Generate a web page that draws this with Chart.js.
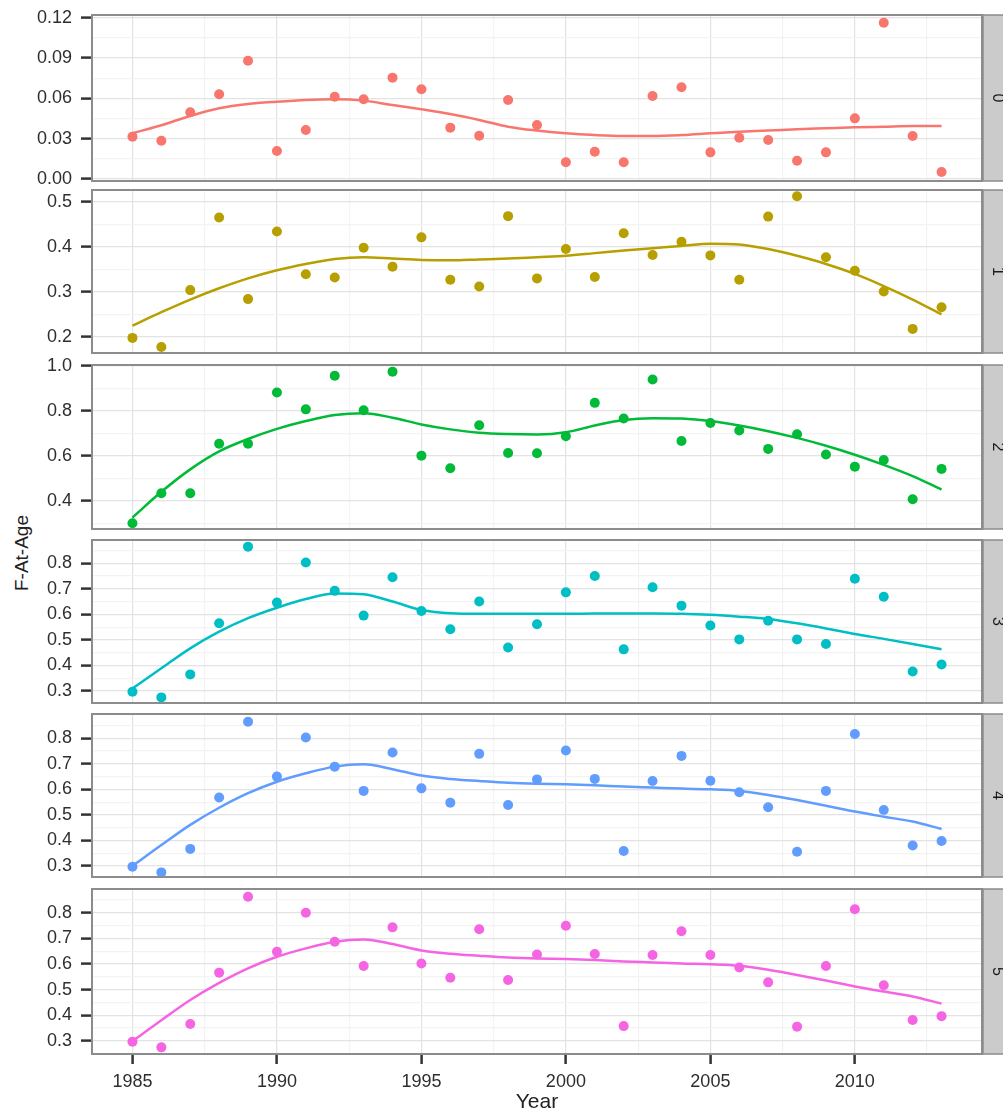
<!DOCTYPE html>
<html>
<head>
<meta charset="utf-8">
<title>F-At-Age</title>
<script src="https://cdn.jsdelivr.net/npm/chart.js@4.4.1/dist/chart.umd.min.js"></script>
<style>
  html, body { margin: 0; padding: 0; background: #fff; }
  #wrap { position: relative; width: 1003px; height: 1118px; overflow: hidden; }
  #wrap canvas { position: absolute; left: 0; }
  #ytitle {
    position: absolute; left: 22px; top: 553px;
    transform: translate(-50%, -50%) rotate(-90deg);
    font: 19px "Liberation Sans", Arial, sans-serif; color: #222; white-space: nowrap;
  }
</style>
</head>
<body>
<div id="wrap">
  <div id="ytitle">F-At-Age</div>
</div>
<script>
// ---- data ----
const years = [1985, 1986, 1987, 1988, 1989, 1990, 1991, 1992, 1993, 1994,
               1995, 1996, 1997, 1998, 1999, 2000, 2001, 2002, 2003, 2004,
               2005, 2006, 2007, 2008, 2009, 2010, 2011, 2012, 2013];
const ages = ['0', '1', '2', '3', '4', '5'];
const xTicks = [1985, 1990, 1995, 2000, 2005, 2010];

const age0Points = [0.0315, 0.0285, 0.0496, 0.063, 0.088, 0.0208, 0.0364, 0.0612, 0.0593, 0.0754,
                    0.0667, 0.0382, 0.0322, 0.0588, 0.0402, 0.0124, 0.0203, 0.0124, 0.0617, 0.0682,
                    0.0198, 0.0307, 0.029, 0.0136, 0.0198, 0.0451, 0.1163, 0.032, 0.0052];
const age0Smooth = [0.034, 0.040, 0.0469, 0.0526, 0.0558, 0.0575, 0.0588, 0.0593, 0.0583, 0.055,
                    0.0518, 0.0483, 0.0439, 0.0389, 0.036, 0.034, 0.0327, 0.032, 0.032, 0.0327,
                    0.034, 0.0352, 0.036, 0.037, 0.0377, 0.0384, 0.0389, 0.0394, 0.0394];

const age1Points = [0.198, 0.178, 0.304, 0.465, 0.284, 0.434, 0.339, 0.332, 0.398, 0.356,
                    0.421, 0.327, 0.312, 0.468, 0.330, 0.395, 0.333, 0.430, 0.382, 0.411,
                    0.381, 0.327, 0.467, 0.512, 0.377, 0.347, 0.301, 0.218, 0.266];
const age1Smooth = [0.225, 0.255, 0.283, 0.308, 0.330, 0.348, 0.362, 0.373, 0.377, 0.374,
                    0.371, 0.370, 0.372, 0.374, 0.377, 0.380, 0.386, 0.392, 0.397, 0.402,
                    0.407, 0.405, 0.395, 0.380, 0.362, 0.340, 0.313, 0.283, 0.250];

const age2Points = [0.300, 0.434, 0.434, 0.654, 0.654, 0.882, 0.807, 0.957, 0.803, 0.975,
                    0.601, 0.545, 0.736, 0.613, 0.612, 0.687, 0.836, 0.766, 0.940, 0.666,
                    0.746, 0.713, 0.631, 0.696, 0.606, 0.552, 0.582, 0.407, 0.542];
const age2Smooth = [0.325, 0.440, 0.540, 0.620, 0.675, 0.720, 0.755, 0.782, 0.790, 0.770,
                    0.740, 0.718, 0.703, 0.697, 0.695, 0.705, 0.735, 0.760, 0.768, 0.766,
                    0.755, 0.735, 0.710, 0.680, 0.645, 0.605, 0.560, 0.510, 0.450];

const age3Points = [0.297, 0.275, 0.365, 0.565, 0.865, 0.646, 0.803, 0.692, 0.595, 0.745,
                    0.613, 0.542, 0.650, 0.470, 0.561, 0.686, 0.750, 0.463, 0.706, 0.634,
                    0.556, 0.502, 0.575, 0.502, 0.484, 0.739, 0.669, 0.376, 0.404];
const age3Smooth = [0.310, 0.389, 0.467, 0.532, 0.585, 0.626, 0.660, 0.682, 0.679, 0.650,
                    0.617, 0.604, 0.602, 0.602, 0.602, 0.602, 0.603, 0.603, 0.603, 0.602,
                    0.598, 0.591, 0.582, 0.565, 0.545, 0.523, 0.504, 0.484, 0.463];

const age4Points = [0.297, 0.275, 0.367, 0.568, 0.865, 0.650, 0.803, 0.689, 0.594, 0.744,
                    0.604, 0.548, 0.739, 0.539, 0.639, 0.752, 0.641, 0.359, 0.633, 0.731,
                    0.634, 0.589, 0.530, 0.356, 0.594, 0.817, 0.519, 0.380, 0.398];
const age4Smooth = [0.300, 0.382, 0.461, 0.528, 0.585, 0.630, 0.663, 0.689, 0.698, 0.679,
                    0.654, 0.641, 0.633, 0.626, 0.622, 0.620, 0.616, 0.611, 0.607, 0.603,
                    0.600, 0.594, 0.578, 0.558, 0.536, 0.513, 0.493, 0.474, 0.445];

const age5Points = [0.296, 0.274, 0.365, 0.566, 0.863, 0.648, 0.800, 0.687, 0.592, 0.743,
                    0.602, 0.546, 0.736, 0.537, 0.637, 0.749, 0.639, 0.357, 0.635, 0.728,
                    0.635, 0.586, 0.528, 0.355, 0.592, 0.814, 0.517, 0.381, 0.396];
const age5Smooth = [0.298, 0.380, 0.459, 0.526, 0.583, 0.628, 0.661, 0.687, 0.696, 0.678,
                    0.653, 0.640, 0.632, 0.625, 0.621, 0.619, 0.615, 0.610, 0.606, 0.602,
                    0.599, 0.593, 0.577, 0.557, 0.535, 0.512, 0.492, 0.473, 0.445];

const yTicks0 = [0, 0.03, 0.06, 0.09, 0.12];
const yTicks1 = [0.2, 0.3, 0.4, 0.5];
const yTicks2 = [0.4, 0.6, 0.8, 1.0];
const yTicks3 = [0.3, 0.4, 0.5, 0.6, 0.7, 0.8];
const yTicks4 = [0.3, 0.4, 0.5, 0.6, 0.7, 0.8];
const yTicks5 = [0.3, 0.4, 0.5, 0.6, 0.7, 0.8];

const allPoints = [age0Points, age1Points, age2Points, age3Points, age4Points, age5Points];
const allSmooth = [age0Smooth, age1Smooth, age2Smooth, age3Smooth, age4Smooth, age5Smooth];
const allYTicks = [yTicks0, yTicks1, yTicks2, yTicks3, yTicks4, yTicks5];

// ---- layout / style ----
const colors = ['#F8766D', '#B79F00', '#00BA38', '#00BFC4', '#619CFF', '#F564E3'];
const panelTop = [15, 190, 365, 540, 714, 889];
const panelBottom = [181, 353, 529, 703, 877, 1054];
const yRange = [[-0.0015, 0.122], [0.1645, 0.526], [0.2745, 1.0045],
                [0.253, 0.891], [0.257, 0.895], [0.248, 0.893]];
const yDecimals = [2, 1, 1, 1, 1, 1];
const xRange = [1983.6, 2014.4];
const tickFont = { family: '"Liberation Sans", Arial, sans-serif', size: 18 };
const pad = 12;

const near = (a, b) => Math.abs(a - b) < 1e-6;

// frame round the panel plus the grey strip with its label
const panelFrame = {
  id: 'panelFrame',
  afterDraw(chart, args, opts) {
    const { ctx, chartArea: a } = chart;
    const h = a.bottom - a.top;
    ctx.save();
    ctx.fillStyle = '#cbcbcb';
    ctx.fillRect(a.right + 1, a.top, 40, h);
    ctx.strokeStyle = '#8c8c8c';
    ctx.lineWidth = 1.5;
    ctx.strokeRect(a.right + 1, a.top, 40, h);
    ctx.lineWidth = 2;
    ctx.strokeRect(a.left, a.top, a.right - a.left, h);
    ctx.translate(997, (a.top + a.bottom) / 2);
    ctx.rotate(Math.PI / 2);
    ctx.fillStyle = '#1a1a1a';
    ctx.font = '16px "Liberation Sans", Arial, sans-serif';
    ctx.textAlign = 'center';
    ctx.textBaseline = 'middle';
    ctx.fillText(opts.label, 0, 0);
    ctx.restore();
  }
};

function buildPanel(i) {
  const last = i === ages.length - 1;
  const top = panelTop[i] - pad;
  const height = last ? 1118 - top : panelBottom[i] - panelTop[i] + 2 * pad;

  const canvas = document.createElement('canvas');
  canvas.width = 1003;
  canvas.height = height;
  canvas.style.top = top + 'px';
  document.getElementById('wrap').appendChild(canvas);

  const majorsY = allYTicks[i];
  const stepY = majorsY[1] - majorsY[0];
  const [yMin, yMax] = yRange[i];
  const minorsY = [majorsY[0] - stepY / 2].concat(majorsY.map(v => v + stepY / 2))
    .filter(v => v > yMin && v < yMax);
  const gridY = majorsY.concat(minorsY);

  const gridX = [];
  for (let v = 1985; v <= xRange[1]; v += 2.5) gridX.push(v);

  const isMajorY = v => majorsY.some(m => near(m, v));
  const isMajorX = v => xTicks.some(m => near(m, v));

  new Chart(canvas, {
    type: 'scatter',
    data: {
      datasets: [
        {
          type: 'line',
          data: years.map((y, k) => ({ x: y, y: allSmooth[i][k] })),
          borderColor: colors[i],
          borderWidth: 2.5,
          pointRadius: 0,
          tension: 0.4,
          cubicInterpolationMode: 'monotone',
          fill: false,
          order: 0
        },
        {
          data: years.map((y, k) => ({ x: y, y: allPoints[i][k] })),
          backgroundColor: colors[i],
          borderWidth: 0,
          pointRadius: 5,
          pointHoverRadius: 5,
          showLine: false,
          order: 1
        }
      ]
    },
    options: {
      responsive: false,
      animation: false,
      events: [],
      layout: { padding: { top: pad, bottom: last ? 0 : pad, left: 0, right: 21 } },
      plugins: {
        legend: { display: false },
        tooltip: { enabled: false },
        panelFrame: { label: ages[i] }
      },
      scales: {
        x: {
          type: 'linear',
          min: xRange[0],
          max: xRange[1],
          afterBuildTicks: s => { s.ticks = gridX.map(v => ({ value: v })); },
          afterFit: s => {
            s.height = last ? 64 : 0;
            s.paddingLeft = 0; s.paddingRight = 0;
          },
          border: { display: false },
          grid: {
            color: c => isMajorX(c.tick.value) ? '#e3e3e3' : '#f3f3f3',
            lineWidth: 1.2,
            drawTicks: last,
            tickLength: 10,
            tickWidth: 2.5,
            tickColor: c => isMajorX(c.tick.value) ? '#333' : 'rgba(0,0,0,0)'
          },
          ticks: {
            display: last,
            autoSkip: false,
            maxRotation: 0,
            padding: 7,
            color: '#2e2e2e',
            font: tickFont,
            callback: v => isMajorX(v) ? String(v) : ''
          },
          title: {
            display: last,
            text: 'Year',
            color: '#222',
            font: { family: '"Liberation Sans", Arial, sans-serif', size: 21 },
            padding: { top: 0, bottom: 3 }
          }
        },
        y: {
          type: 'linear',
          min: yMin,
          max: yMax,
          afterBuildTicks: s => { s.ticks = gridY.map(v => ({ value: v })); },
          afterFit: s => {
            s.width = 92;
            s.paddingTop = 0; s.paddingBottom = 0;
          },
          border: { display: false },
          grid: {
            color: c => isMajorY(c.tick.value) ? '#e3e3e3' : '#f3f3f3',
            lineWidth: 1.2,
            tickLength: 11,
            tickWidth: 2.5,
            tickColor: c => isMajorY(c.tick.value) ? '#333' : 'rgba(0,0,0,0)'
          },
          ticks: {
            autoSkip: false,
            padding: 9,
            color: '#2e2e2e',
            font: tickFont,
            callback: v => isMajorY(v) ? v.toFixed(yDecimals[i]) : ''
          }
        }
      }
    },
    plugins: [panelFrame]
  });
}

ages.forEach((a, i) => buildPanel(i));
</script>
</body>
</html>
